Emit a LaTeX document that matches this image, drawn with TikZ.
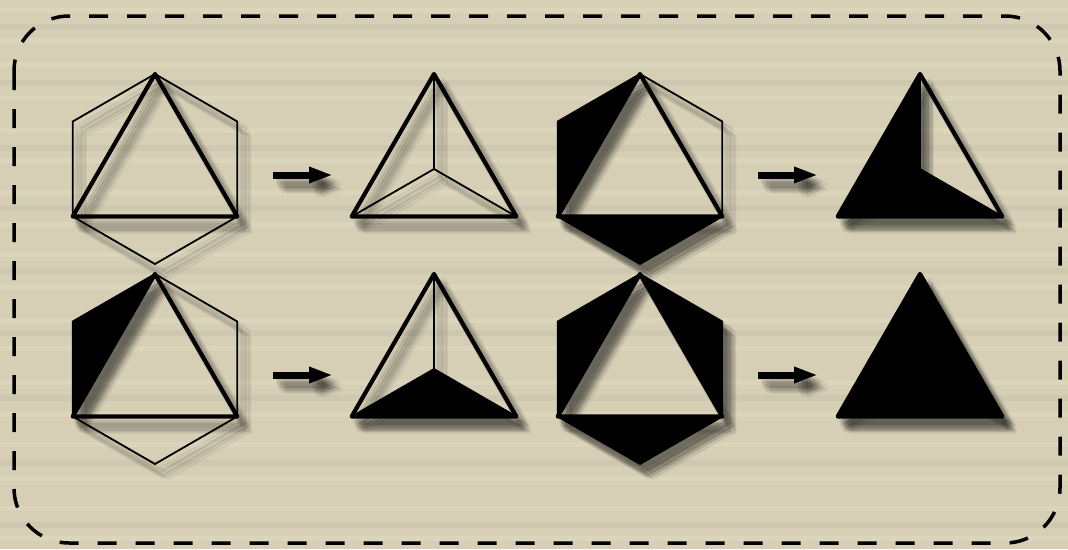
\documentclass[tikz,border=0pt]{standalone}
\usetikzlibrary{arrows.meta}
\definecolor{paper}{RGB}{214,207,182}
\definecolor{paperlight}{RGB}{232,227,205}
\tikzset{
  x=1pt, y=-1pt,
  thinl/.style={line width=1.8pt, line join=round},
  thickl/.style={line width=4.2pt, line join=round},
  bigarrow/.style={line width=7pt, -{Triangle[length=24pt,width=15pt]}},
  border/.style={line width=3.5pt, dash pattern=on 19pt off 19pt, rounded corners=55pt},
  pics/hexfig/.style n args={4}{code={
    \coordinate (T) at (0,-95);
    \coordinate (UL) at (-82.3,-47.5);
    \coordinate (LL) at (-82.3,47.5);
    \coordinate (B) at (0,95);
    \coordinate (LR) at (82.3,47.5);
    \coordinate (UR) at (82.3,-47.5);
    \path[fill=#2] (T)--(UL)--(LL)--cycle;
    \path[fill=#3] (LL)--(B)--(LR)--cycle;
    \path[fill=#4] (T)--(UR)--(LR)--cycle;
    \draw[thinl,#1] (T)--(UL)--(LL)--(B)--(LR)--(UR)--cycle;
    \draw[thickl,#1] (T)--(LL)--(LR)--cycle;
  }},
  pics/tetfig/.style n args={4}{code={
    \coordinate (T) at (0,-95);
    \coordinate (LL) at (-82.3,47.5);
    \coordinate (LR) at (82.3,47.5);
    \coordinate (C) at (0,0);
    \path[fill=#2] (T)--(LL)--(C)--cycle;
    \path[fill=#3] (LL)--(LR)--(C)--cycle;
    \path[fill=#4] (T)--(LR)--(C)--cycle;
    \draw[thinl,#1] (C)--(T) (C)--(LL) (C)--(LR);
    \draw[thickl,#1] (T)--(LL)--(LR)--cycle;
  }},
  shadowlayer/.style={opacity=0.055}
}
\begin{document}
\begin{tikzpicture}
\useasboundingbox (0,0) rectangle (1068,549);
\fill[paper] (0,0) rectangle (1068,549);
% paper texture stripes
\foreach \yy in {8,38,62,96,128,158,190,222,252,285,318,346,380,412,442,476,506,536}{
  \fill[paperlight,opacity=0.3] (0,\yy) rectangle (1068,\yy+5);
}
\foreach \yy in {24,80,145,205,268,330,395,460,522}{
  \fill[black,opacity=0.03] (0,\yy) rectangle (1068,\yy+6);
}
% border
\draw[border] (14,16) rectangle (1060,543);
% shadows (soft, built from offset layers)
\foreach \dx/\dy in {3/5,5/7,7/9,9/11,11/13,4/9,9/6,6/12,12/9,8/14,13/15}{
  \begin{scope}[shadowlayer, shift={(\dx,\dy)}]
    \pic (s1) at (155,169) {hexfig={black}{none}{none}{none}};
    \pic (s2) at (434,169) {tetfig={black}{none}{none}{none}};
    \pic (s3) at (640,169) {hexfig={black}{black}{black}{none}};
    \pic (s4) at (920,169) {tetfig={black}{black}{black}{none}};
    \pic (s5) at (155,369) {hexfig={black}{black}{none}{none}};
    \pic (s6) at (434,369) {tetfig={black}{none}{black}{none}};
    \pic (s7) at (640,369) {hexfig={black}{black}{black}{black}};
    \pic (s8) at (920,369) {tetfig={black}{black}{black}{black}};
    \coordinate (sa1s) at (273,175); \coordinate (sa1e) at (333,175);
    \coordinate (sa2s) at (758,175); \coordinate (sa2e) at (818,175);
    \coordinate (sa3s) at (273,375); \coordinate (sa3e) at (333,375);
    \coordinate (sa4s) at (758,375); \coordinate (sa4e) at (818,375);
    \draw[bigarrow] (sa1s) -- (sa1e);
    \draw[bigarrow] (sa2s) -- (sa2e);
    \draw[bigarrow] (sa3s) -- (sa3e);
    \draw[bigarrow] (sa4s) -- (sa4e);
  \end{scope}
}
% figures
\pic (f1) at (155,169) {hexfig={black}{none}{none}{none}};
\pic (f2) at (434,169) {tetfig={black}{none}{none}{none}};
\pic (f3) at (640,169) {hexfig={black}{black}{black}{none}};
\pic (f4) at (920,169) {tetfig={black}{black}{black}{none}};
\pic (f5) at (155,369) {hexfig={black}{black}{none}{none}};
\pic (f6) at (434,369) {tetfig={black}{none}{black}{none}};
\pic (f7) at (640,369) {hexfig={black}{black}{black}{black}};
\pic (f8) at (920,369) {tetfig={black}{black}{black}{black}};
% arrows
\coordinate (a1s) at (273,175); \coordinate (a1e) at (333,175);
\coordinate (a2s) at (758,175); \coordinate (a2e) at (818,175);
\coordinate (a3s) at (273,375); \coordinate (a3e) at (333,375);
\coordinate (a4s) at (758,375); \coordinate (a4e) at (818,375);
\draw[bigarrow] (a1s) -- (a1e);
\draw[bigarrow] (a2s) -- (a2e);
\draw[bigarrow] (a3s) -- (a3e);
\draw[bigarrow] (a4s) -- (a4e);
\end{tikzpicture}
\end{document}
